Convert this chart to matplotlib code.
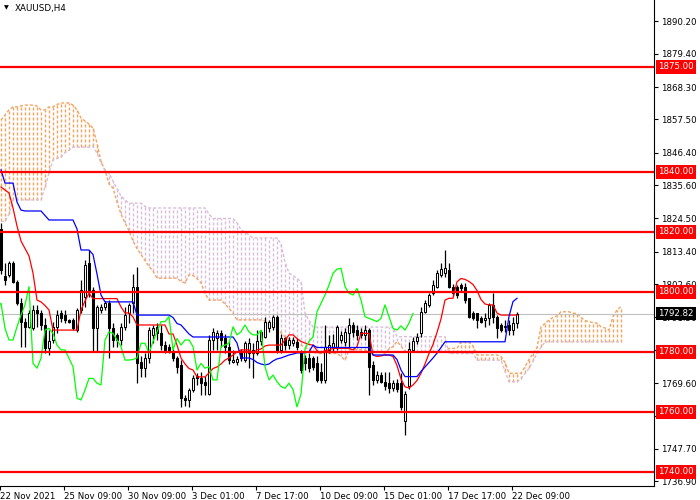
import numpy as np
import matplotlib
matplotlib.use("Agg")
import matplotlib.pyplot as plt
import matplotlib.transforms as mtransforms

plt.rcParams['font.family'] = ['DejaVu Sans']
plt.rcParams['lines.scale_dashes'] = False

# ---------------- data (XAUUSD H4) ----------------
opens = [1821, 1805.2, 1805.7, 1809.6, 1803.4, 1796.2, 1790.1, 1788.4, 1787.9, 1794,
         1792.9, 1789, 1781.2, 1784, 1788.4, 1792.9, 1792.3, 1790.7, 1790.7, 1787.3,
         1794, 1798.4, 1809.6, 1800.7, 1787.9, 1794, 1795.1, 1796.2, 1787.9, 1785.7,
         1784, 1788.4, 1792.9, 1796.2, 1801.8, 1776.8, 1774.6, 1777.9, 1785.7, 1788.4,
         1786.2, 1782.3, 1781.8, 1780.1, 1777.9, 1775.7, 1764.6, 1764, 1767.3, 1772,
         1771.4, 1770, 1766, 1784, 1784.5, 1786.4, 1784.5, 1781.8, 1776.5, 1776.5,
         1780, 1777.3, 1779.6, 1780.7, 1779.6, 1783.5, 1785.1, 1787.9, 1788.4, 1791.8,
         1780.7, 1784.5, 1782.3, 1782.9, 1783.4, 1779.6, 1777.9, 1777.9, 1777.9, 1776.2,
         1773.4, 1770.7, 1780.7, 1781.8, 1781.8, 1784, 1783.4, 1786.2, 1789, 1787.3,
         1786.7, 1785.7, 1787.3, 1775.7, 1770.7, 1772.3, 1770.1, 1769.6, 1767.9, 1769.6,
         1769.7, 1757, 1768.5, 1780.7, 1783.5, 1786.2, 1793.4, 1795.7, 1799.6, 1801.8,
         1805.7, 1806.2, 1807.3, 1801.8, 1801.8, 1802.3, 1801.8, 1797.9, 1792.9, 1792.9,
         1791.2, 1790.7, 1791.2, 1795.7, 1791.8, 1789, 1788.2, 1789, 1787.3, 1789.6]
highs = [1823, 1809.6, 1810.2, 1810.2, 1804, 1797.9, 1791.2, 1794, 1795.7, 1795.7,
         1794, 1791.2, 1787.3, 1790, 1794, 1794, 1794, 1791, 1791.2, 1794.6,
         1804, 1810.7, 1814, 1801.5, 1795.7, 1796, 1797, 1797.3, 1789.6, 1786.2,
         1789.6, 1795.1, 1796.2, 1806, 1808.4, 1778.5, 1779.6, 1788.4, 1789, 1789.6,
         1789, 1783.5, 1782.5, 1781, 1778.5, 1777.3, 1765.5, 1767.9, 1772.4, 1773,
         1773.4, 1772, 1785.5, 1787.9, 1787.3, 1787.3, 1786, 1784, 1780.7, 1778.5,
         1781, 1783.5, 1784.5, 1782.9, 1787.3, 1787.3, 1791.8, 1790.7, 1792.3, 1792.3,
         1786, 1785.1, 1785, 1785, 1784.5, 1780.7, 1779, 1779.6, 1778.5, 1778.5,
         1776.2, 1789, 1785.5, 1786, 1789, 1787, 1787.9, 1791.2, 1790, 1789,
         1787.9, 1789, 1787.9, 1777, 1773.5, 1773.4, 1773.4, 1773.4, 1770.5, 1771,
         1772.9, 1767, 1783.4, 1785, 1786.2, 1795.1, 1797.3, 1799.6, 1804, 1807.3,
         1809.6, 1814, 1809.6, 1802.5, 1802.3, 1803, 1802.9, 1797.9, 1793.5, 1792.9,
         1792, 1792.9, 1796.2, 1799.6, 1792.3, 1789.6, 1790.7, 1790.7, 1791.8, 1793.4]
lows = [1806, 1802.3, 1805, 1802.9, 1795.7, 1781.8, 1781.8, 1787.9, 1787.3, 1788.4,
        1787.3, 1779.6, 1779, 1783, 1786.2, 1790, 1789.6, 1789.5, 1787.3, 1786.8,
        1792.9, 1795.1, 1798.4, 1780.1, 1780.1, 1793, 1794, 1778, 1781.8, 1781.8,
        1782.3, 1787.3, 1789.6, 1792.9, 1769.6, 1771.8, 1771.8, 1776.2, 1782.9, 1784,
        1780.7, 1779.6, 1779.6, 1777, 1772.9, 1761.8, 1762, 1761.8, 1766.8, 1769,
        1765.6, 1765.6, 1765.6, 1780.7, 1780.7, 1781.8, 1779.6, 1776, 1776.2, 1775.5,
        1777, 1776.8, 1774.6, 1771.2, 1779, 1782.3, 1784.5, 1786.8, 1787.3, 1779.6,
        1779.5, 1780.7, 1781, 1782, 1780.7, 1772.9, 1774, 1773.4, 1774, 1770,
        1769.6, 1769.6, 1779.6, 1780, 1780.7, 1782.9, 1782, 1781.8, 1785, 1784,
        1784.5, 1784, 1765.6, 1769, 1769.6, 1769.6, 1767.3, 1766.2, 1767, 1766.5,
        1760.7, 1752.3, 1767.5, 1780, 1782.5, 1785.1, 1792.9, 1795.1, 1799, 1801.2,
        1805.1, 1805.1, 1801.2, 1798.5, 1797.9, 1800, 1796.2, 1791.2, 1790.5, 1787.9,
        1789.5, 1788.4, 1789, 1789.6, 1784.5, 1786.8, 1786.8, 1785.7, 1785.7, 1787.9]
closes = [1807.3, 1804, 1809.6, 1803.4, 1796.2, 1790.1, 1788.4, 1792.9, 1794, 1792.9,
          1789, 1781.2, 1783.5, 1788.4, 1792.3, 1791.2, 1790.7, 1790.1, 1787.9, 1794,
          1800.7, 1809, 1800.7, 1787.9, 1795.1, 1795.1, 1796.2, 1787.9, 1784, 1784,
          1788.4, 1792.3, 1795.7, 1801.8, 1776.2, 1774.6, 1777.9, 1787.3, 1787.9, 1786.2,
          1782.3, 1780.7, 1780.7, 1777.9, 1775.1, 1764.6, 1764, 1767.3, 1771.2, 1771.2,
          1769.6, 1769, 1784, 1786.7, 1786.2, 1784, 1781.8, 1777.3, 1777.3, 1777.5,
          1778, 1782.9, 1782.9, 1779.6, 1783.5, 1786.7, 1790.1, 1790.1, 1791.8, 1780.7,
          1784.5, 1782.3, 1784, 1784, 1781.8, 1774, 1776.2, 1774.6, 1775.1, 1770.7,
          1770.7, 1781.8, 1782.3, 1782.9, 1788.4, 1785.7, 1786.7, 1789, 1786.7, 1785.7,
          1785.7, 1787.3, 1775.1, 1770.7, 1772.3, 1770.1, 1768.5, 1767.9, 1769.6, 1767.5,
          1761.7, 1766, 1781, 1783.5, 1785, 1793.4, 1796.2, 1799, 1802.3, 1806.2,
          1807.6, 1807.9, 1801.8, 1799.6, 1799, 1801.2, 1797.3, 1791.8, 1791.2, 1790.7,
          1790.1, 1791.2, 1795.7, 1791.8, 1787.9, 1787.3, 1788.7, 1787.3, 1789.6, 1792.82]

tenkan = ([1835, 1834, 1833, 1828, 1822, 1817, 1814.5, 1812, 1806.3, 1797.3, 1796.7, 1795.5, 1794]
          + [1787.3] * 7 + [1794, 1797, 1799.6] + [1797.8] * 7
          + [1795, 1793, 1793, 1791.7] + [1789] * 8
          + [1786, 1786, 1782.3, 1778, 1776, 1774.5, 1774] + [1771.7] * 3
          + [1773, 1774.5, 1775, 1776, 1777.3, 1778, 1779, 1780] + [1780.7] * 3
          + [1779.6, 1780.7, 1781, 1782] + [1782.3] * 4
          + [1784, 1785.7, 1785.7, 1784.5, 1783.5, 1783, 1782.5, 1782.3, 1780.5, 1779.7, 1780.5, 1780.7]
          + [1781.2] * 5 + [1780.7, 1781.8] + [1786.2] * 3
          + [1779, 1778.5, 1778.7, 1779, 1779, 1778.5, 1775.5, 1771, 1768.4, 1768, 1769, 1770.5,
             1772.9, 1776, 1779.5, 1782.5, 1786.5, 1791, 1797.3]
          + [1797.9] * 2 + [1803.4, 1804.5, 1804.2, 1803.5, 1802.5, 1800.5, 1797.5, 1796]
          + [1795.7] * 2 + [1793] + [1792.3] * 5)

kijun = ([1840.7] + [1836.3] * 3 + [1830, 1827.3] + [1827] * 5 + [1825.5] + [1824] * 7
         + [1821] + [1814] * 3 + [1812.5, 1806, 1799] + [1796.7] * 8 + [1792.3] * 9
         + [1791.5, 1789.5, 1789, 1787.5, 1786] + [1785] * 11 + [1783] + [1778] * 3
         + [1777.5, 1776.5, 1776, 1775.7, 1776, 1777, 1777.7, 1778, 1778.5, 1779, 1779.3]
         + [1779.7] * 3 + [1780, 1782.3] + [1781.5] * 14 + [1779] * 6 + [1777.5, 1774]
         + [1771.8] * 4 + [1773.5, 1775, 1776.5, 1778, 1779.6, 1781.5] + [1783.4] * 16
         + [1791.8, 1796.8, 1797.9])

senkou_a = ([1857.3, 1859, 1860.7, 1861.7, 1861.7, 1862, 1862.3, 1862.3, 1862.3, 1862,
             1860.7, 1860.7, 1861.7, 1861.7, 1862.5, 1863, 1863, 1863, 1862.3, 1860.7,
             1858, 1857, 1856, 1854.6, 1849.6, 1843.5, 1840.7, 1836, 1834.6, 1830,
             1826, 1823, 1820.5, 1817, 1814.5, 1812.5, 1810.5, 1808.5, 1807]
            + [1804.6] * 6 + [1803.5, 1803, 1805.7, 1805.5, 1804.5, 1803, 1799.6]
            + [1797.3] * 4 + [1796, 1794.5, 1793] + [1790.7] * 7
            + [1790.3, 1789.5, 1788.5, 1787.5, 1786.5, 1785, 1784.2, 1784, 1783.3, 1782.3,
               1781.5, 1780.7, 1780]
            + [1779.5] * 6 + [1778.5, 1777.3] + [1780.7] * 5 + [1780] * 4
            + [1779.6, 1781, 1781.8, 1783.5, 1782] + [1780.1] * 11 + [1781.2] * 3
            + [1783.4] * 3 + [1782] + [1779] * 6 + [1778.5, 1776.5] + [1772.9] * 4
            + [1775.1, 1777.5, 1779.5, 1781.5, 1788.4, 1789.5, 1790.7, 1791.5, 1792]
            + [1793.4] * 3 + [1792.9] * 2
            + [1791.5, 1790.5, 1790.1, 1789.8, 1789.6, 1788.4, 1788, 1787.3, 1791.8, 1794, 1795.1])

senkou_b = ([1823.5, 1823.5, 1826] + [1830.7] * 8
            + [1835, 1839.6, 1844, 1844.5, 1845, 1846.5, 1847.3] + [1848.3] * 5
            + [1848.5, 1846.3, 1843, 1840.5, 1839.6, 1837, 1834.5, 1832, 1830.7]
            + [1829.6] * 4 + [1828.5] + [1828] * 15 + [1826] + [1824.5] * 6
            + [1823, 1820.7, 1820, 1819] + [1818] * 7
            + [1816, 1810, 1806.3, 1805.5, 1804.5, 1803.5, 1793, 1790.5]
            + [1788.3] * 21 + [1785.1] * 13 + [1779.5] * 7 + [1777.3] * 7
            + [1773.5] + [1770.1] * 3 + [1771, 1772.9, 1774.5, 1777, 1779.5, 1781.5]
            + [1783.4] * 20)

levels = [1875, 1840, 1820, 1800, 1780, 1760, 1740]
last_price = 1792.82
price_ticks = [1890.2, 1879.4, 1868.3, 1857.5, 1846.4, 1835.6, 1824.5, 1813.4,
               1802.6, 1791.5, 1780.7, 1769.6, 1758.8, 1747.7, 1736.9]
price_labels = ["1890.20", "1879.40", "1868.30", "1857.50", "1846.40", "1835.60",
                "1824.50", "1813.40", "1802.60", "1791.50", "", "1769.60", "1758.80",
                "1747.70", "1736.90"]
date_bars = [0, 16, 32, 48, 64, 80, 96, 112, 128]
date_labels = ["22 Nov 2021", "25 Nov 09:00", "30 Nov 09:00", "3 Dec 01:00",
               "7 Dec 17:00", "10 Dec 09:00", "15 Dec 01:00", "17 Dec 17:00",
               "22 Dec 09:00"]
shift = 26

# ---------------- plot ----------------
o = np.array(opens); h = np.array(highs); l = np.array(lows); c = np.array(closes)
n = len(c)
x = np.arange(n)
sa = np.array(senkou_a); sb = np.array(senkou_b)
xc = np.arange(len(sa))

fig = plt.figure(figsize=(7, 5), dpi=100)
ax = fig.add_axes([0, 14 / 500, 654 / 700, 486 / 500])
ax.set_xlim(-0.25, 163.25)
ax.set_ylim(1735.33, 1897.33)

# cloud hatch (vertical dashed lines), dash 3px on / 2px off
sandy = "#F4A460"
thistle = "#D8BFD8"
dash = [(0, (2.2, 1.4))]
bull = sa >= sb
ax.vlines(xc[bull], sb[bull], sa[bull], colors=sandy, linewidth=1.0,
          linestyles=dash, zorder=1)
ax.vlines(xc[~bull], sa[~bull], sb[~bull], colors=thistle, linewidth=1.0,
          linestyles=dash, zorder=1)
ax.plot(xc, sa, color=sandy, lw=1.0, ls=dash[0], zorder=1.2)
ax.plot(xc, sb, color=thistle, lw=1.0, ls=dash[0], zorder=1.2)

# current price line
ax.axhline(last_price, color="#C0C0C0", lw=0.8, zorder=1.5)

# candles
ax.vlines(x, l, h, color="black", lw=0.9, zorder=2)
up = c >= o
body_lo = np.minimum(o, c)
body_h = np.maximum(np.abs(c - o), 0.35)
ax.bar(x[up], body_h[up], bottom=body_lo[up], width=0.6, facecolor="white",
       edgecolor="black", linewidth=0.75, zorder=2.1)
ax.bar(x[~up], body_h[~up], bottom=body_lo[~up], width=0.6, facecolor="black",
       edgecolor="black", linewidth=0.75, zorder=2.1)

# ichimoku lines
ax.plot(x, tenkan, color="red", lw=0.9, zorder=3)
ax.plot(x, kijun, color="blue", lw=0.9, zorder=3)
ax.plot(x - shift, c, color="#00FF00", lw=0.9, zorder=3)

# horizontal levels
for lv in levels:
    ax.axhline(lv, color="red", lw=1.6, zorder=4)

# axes cosmetics
for s in ["left", "top"]:
    ax.spines[s].set_visible(False)
for s in ["right", "bottom"]:
    ax.spines[s].set_color("black")
    ax.spines[s].set_linewidth(0.8)
ax.yaxis.tick_right()
ax.set_yticks(price_ticks)
ax.set_yticklabels(price_labels)
ax.set_xticks([b - 0.25 for b in date_bars])
ax.set_xticklabels(date_labels, ha="left")
ax.tick_params(axis="both", direction="out", length=3, width=0.8, labelsize=6.2,
               colors="black", pad=2)
ax.tick_params(axis="x", pad=1.5)

tr = mtransforms.blended_transform_factory(ax.transAxes, ax.transData)
for lv in levels:
    ax.text(1.0 + 4 / 654, lv, f"{lv:.2f}", transform=tr, ha="left", va="center",
            color="white", fontsize=6.2, clip_on=False, zorder=10,
            bbox=dict(boxstyle="square,pad=0.28", fc="red", ec="none"))
ax.text(1.0 + 4 / 654, last_price, f"{last_price:.2f}", transform=tr, ha="left",
        va="center", color="white", fontsize=6.2, clip_on=False, zorder=10,
        bbox=dict(boxstyle="square,pad=0.28", fc="black", ec="none"))

fig.text(4 / 700, 1 - 8 / 500, "\u25BC", fontsize=4.5, va="center", ha="left")
fig.text(15 / 700, 1 - 8 / 500, "XAUUSD,H4", fontsize=6.3, va="center", ha="left")

fig.savefig("out.png", dpi=100)
